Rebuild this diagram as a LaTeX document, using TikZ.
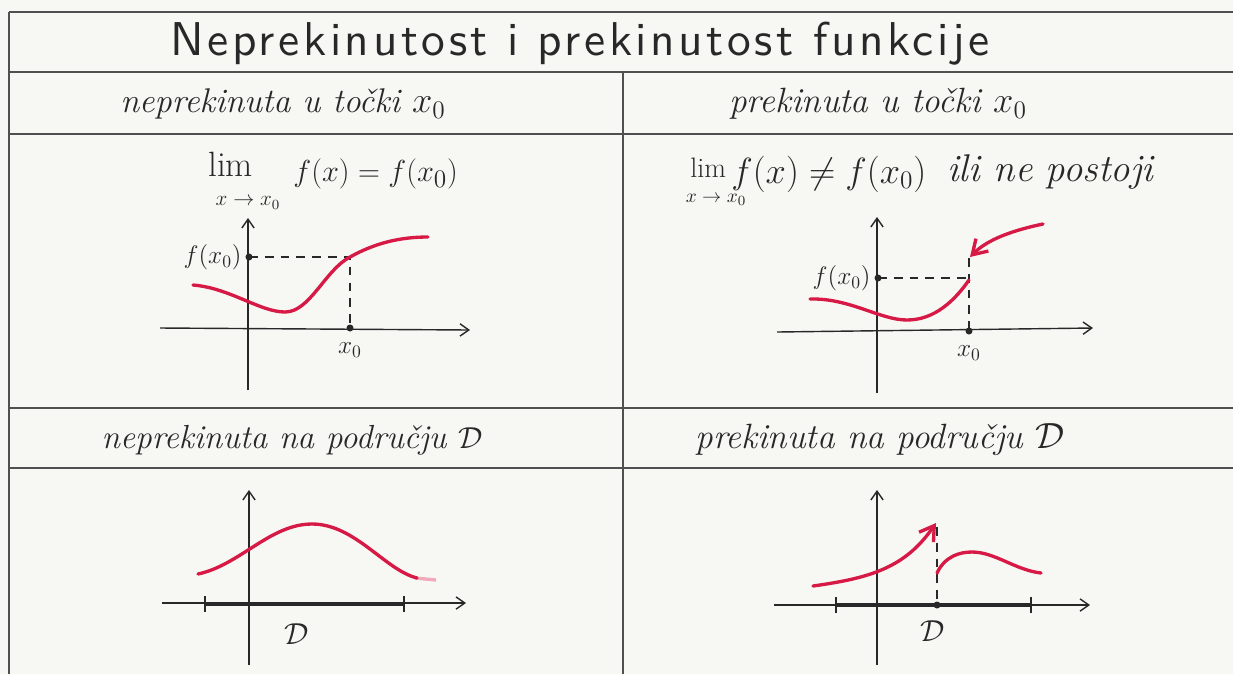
\documentclass[tikz,border=0pt]{standalone}
\usepackage{fontspec}
\usetikzlibrary{arrows.meta}
\newfontfamily\titlefont{lmsans10-regular.otf}[LetterSpace=7.5]
\definecolor{paper}{RGB}{247,248,243}
\definecolor{pencil}{RGB}{80,80,80}
\definecolor{ink}{RGB}{40,40,40}
\definecolor{redpen}{RGB}{215,25,70}
\definecolor{pinkpen}{RGB}{240,170,185}
\tikzset{
  rule/.style={pencil, line width=1.2pt},
  axis/.style={ink, line width=0.8pt, -{Straight Barb[length=5pt,width=7pt]}},
  guide/.style={ink, line width=0.8pt, dash pattern=on 5pt off 4pt},
  fcurve/.style={redpen, line width=1.9pt, line cap=round},
  redarrow/.style={fcurve, -{Straight Barb[length=8pt,width=10pt]}},
  dom/.style={ink, line width=2.2pt},
  tick/.style={ink, line width=1.6pt},
  txt/.style={ink, inner sep=0pt},
  hd/.style={txt, font=\fontsize{20}{24}\selectfont\itshape},
  big/.style={txt, font=\fontsize{21}{24}\selectfont},
  sub/.style={txt, font=\fontsize{12}{14}\selectfont},
  lbl/.style={txt, font=\fontsize{14}{16}\selectfont},
  dotm/.style={circle, fill=ink, inner sep=0pt, minimum size=4pt},
}
\begin{document}
\begin{tikzpicture}[x=0.02cm,y=-0.02cm]
\fill[paper] (0,0) rectangle (1233,674);
\useasboundingbox (0,0) rectangle (1233,674);
% table rules
\draw[rule] (9,12) -- (1233,12);
\draw[rule] (9,12) -- (9,674);
\draw[rule] (9,72) -- (1233,72);
\draw[rule] (9,134) -- (1233,134);
\draw[rule] (9,408) -- (1233,408);
\draw[rule] (9,468) -- (1233,468);
\draw[rule] (623,72) -- (623,674);
% texts
\node[txt, font=\fontsize{27}{30}\selectfont\titlefont] (title) at (580,44) {Neprekinutost i prekinutost funkcije};
\node[hd, font=\fontsize{19.5}{24}\selectfont\itshape] (h1) at (283,104) {neprekinuta u točki $x_0$};
\node[hd] (h2) at (878,104) {prekinuta u točki $x_0$};
\node[hd, font=\fontsize{19}{24}\selectfont\itshape] (h3) at (292,440) {neprekinuta na području $\mathcal{D}$};
\node[hd] (h4) at (880,440) {prekinuta na području $\mathcal{D}$};
% limit formulas
\node[big, anchor=west, font=\fontsize{20}{24}\selectfont] (lim1) at (208,164) {lim};
\node[sub] (sub1) at (248,203) {$x\to x_0$};
\node[big, anchor=west, font=\fontsize{19}{24}\selectfont] (eq1) at (293,174) {$f(x) = f(x_0)$};
\node[big, anchor=west, font=\fontsize{16}{18}\selectfont] (lim2) at (690,168) {lim};
\node[sub, font=\fontsize{11}{13}\selectfont] (sub2) at (716,200) {$x\to x_0$};
\node[big, anchor=west] (eq2) at (731,174) {$f(x) \neq f(x_0)$};
\node[big, anchor=west, font=\fontsize{22}{24}\selectfont\itshape] (ili) at (947,172) {ili ne postoji};
% graph 1
\draw[axis] (248,390) -- (248,218);
\draw[axis] (160,328) -- (470,330);
\draw[guide] (249,257) -- (350,257) -- (350,328);
\draw[fcurve] (193,285) .. controls (230,288) and (260,312) .. (285,312) .. controls (310,312) and (325,270) .. (350,257) .. controls (375,243) and (400,237) .. (428,237);
\node[dotm] (d1a) at (249,257) {};
\node[dotm] (d1b) at (350,328) {};
\node[lbl, left=4pt] (f1) at (d1a) {$f(x_0)$};
\node[lbl, below=8pt] (x1) at (d1b) {$x_0$};
% graph 2
\draw[axis] (877,393) -- (877,217);
\draw[axis] (777,332) -- (1093,328);
\draw[guide] (878,278) -- (969,278);
\draw[guide] (969,258) -- (969,331);
\draw[fcurve] (810,299) .. controls (850,298) and (880,320) .. (907,320) .. controls (935,320) and (955,300) .. (969,280);
\coordinate (a2s) at (1043,224);
\coordinate (a2e) at (970,257);
\draw[redarrow] (a2s) .. controls (1005,232) and (985,242) .. (a2e);
\node[dotm] (d2a) at (878,278) {};
\node[dotm] (d2b) at (969,331) {};
\node[lbl, left=4pt] (f2) at (d2a) {$f(x_0)$};
\node[lbl, below=8pt] (x2) at (d2b) {$x_0$};
% graph 3
\draw[axis] (249,665) -- (249,490);
\draw[axis] (162,603) -- (466,603);
\draw[dom] (205,604) -- (404,604);
\draw[tick] (205,596) -- (205,612);
\draw[tick] (404,596) -- (404,612);
\draw[pinkpen, line width=1.9pt] (415,578) -- (436,580);
\draw[fcurve] (198,574) .. controls (240,565) and (270,524) .. (312,524) .. controls (355,524) and (385,570) .. (417,578);
\node[lbl, font=\fontsize{16}{18}\selectfont] (D1) at (297,634) {$\mathcal{D}$};
% graph 4
\draw[axis] (877,665) -- (877,490);
\draw[axis] (774,605) -- (1090,605);
\draw[dom] (836,605) -- (1031,605);
\draw[tick] (836,597) -- (836,613);
\draw[tick] (1031,597) -- (1031,613);
\draw[guide] (937,527) -- (937,605);
\draw[redarrow] (813,586) .. controls (870,578) and (905,568) .. (936,523);
\draw[fcurve] (937,573) .. controls (945,556) and (960,552) .. (972,552) .. controls (995,552) and (1015,570) .. (1041,573);
\node[dotm] (d4) at (937,605) {};
\node[lbl, font=\fontsize{16}{18}\selectfont] (D2) at (933,631) {$\mathcal{D}$};
\end{tikzpicture}
\end{document}
